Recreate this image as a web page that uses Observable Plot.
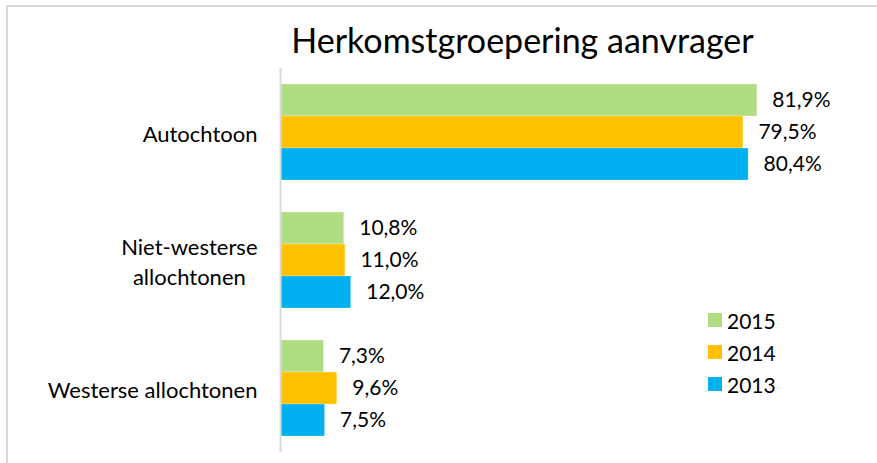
<!DOCTYPE html>
<html>
<head>
<meta charset="utf-8">
<script src="https://cdn.jsdelivr.net/npm/d3@7"></script>
<script src="https://cdn.jsdelivr.net/npm/@observablehq/plot@0.6"></script>
<style>
  html, body { margin: 0; padding: 0; background: #fff; overflow: hidden; }
  #wrap { position: relative; width: 877px; height: 463px; font-family: Lato, "Open Sans", sans-serif; }
  #frame { position: absolute; left: 6px; top: 5px; width: 900px; height: 520px; border: 2px solid #d9d9d9; box-sizing: border-box; }
  #title { position: absolute; left: 0; width: 1045px; top: 19px; text-align: center; font-size: 34px; color: #000; white-space: nowrap; }
  #legend { position: absolute; left: 708px; top: 304px; font-size: 21px; color: #000; }
  #legend .item { display: flex; align-items: center; height: 32px; }
  #legend .sw { width: 14px; height: 14px; margin-right: 5px; }
  #chart { position: absolute; left: 0; top: 0; }
</style>
</head>
<body>
<div id="wrap">
  <div id="frame"></div>
  <div id="chart"></div>
  <div id="title"></div>
  <div id="legend"></div>
</div>
<script>
const title = "Herkomstgroepering aanvrager";
const categories = ["Autochtoon", "Niet-westerse allochtonen", "Westerse allochtonen"];
const categoryLabels = ["Autochtoon", "Niet-westerse\nallochtonen", "Westerse allochtonen"];
const years = ["2015", "2014", "2013"];
const colors = ["#B0DC82", "#FFC000", "#00B0F0"];
const values2015 = [81.9, 10.8, 7.3];
const values2014 = [79.5, 11.0, 9.6];
const values2013 = [80.4, 12.0, 7.5];

document.getElementById("title").textContent = title;

const seriesValues = [values2015, values2014, values2013];
const data = [];
categories.forEach((c, i) => {
  years.forEach((y, j) => {
    data.push({category: c, year: y, value: seriesValues[j][i]});
  });
});
const fmt = v => v.toFixed(1).replace(".", ",") + "%";
const labelOf = Object.fromEntries(categories.map((c, i) => [c, categoryLabels[i]]));

const chart = Plot.plot({
  width: 877,
  height: 463,
  marginTop: 68,
  marginBottom: 11,
  marginLeft: 281,
  marginRight: 15,
  style: {fontFamily: "Lato, 'Open Sans', sans-serif", fontSize: "21px", color: "#000", background: "transparent"},
  x: {domain: [0, 100], axis: null},
  y: {domain: years, axis: null, paddingInner: 0, paddingOuter: 0.469},
  fy: {domain: categories, padding: 0, axis: null},
  color: {domain: years, range: colors},
  marks: [
    Plot.axisFy({anchor: "left", label: null, tickSize: 0, tickPadding: 24, tickFormat: c => labelOf[c], fontSize: 22, lineHeight: 1.35, fill: "#000"}),
    Plot.barX(data, {x: "value", y: "year", fy: "category", fill: "year", stroke: "#ffffff", strokeOpacity: 0.5, strokeWidth: 0.5}),
    Plot.text(data, {x: "value", y: "year", fy: "category", text: d => fmt(d.value), textAnchor: "start", dx: 15, fill: "#000", fontSize: 21}),
    Plot.ruleX([0], {stroke: "#d9d9d9", strokeWidth: 2, dx: -1})
  ]
});
document.getElementById("chart").appendChild(chart);

// center multi-line category labels like the original
chart.querySelectorAll("text").forEach(t => {
  const spans = t.querySelectorAll("tspan");
  if (spans.length > 1) {
    const bb = t.getBBox();
    const cx = bb.x + bb.width / 2;
    t.setAttribute("text-anchor", "middle");
    spans.forEach(s => s.setAttribute("x", cx));
  }
});

const legend = document.getElementById("legend");
years.forEach((y, i) => {
  const item = document.createElement("div");
  item.className = "item";
  const sw = document.createElement("div");
  sw.className = "sw";
  sw.style.background = colors[i];
  const lab = document.createElement("span");
  lab.textContent = y;
  item.appendChild(sw);
  item.appendChild(lab);
  legend.appendChild(item);
});
</script>
</body>
</html>
